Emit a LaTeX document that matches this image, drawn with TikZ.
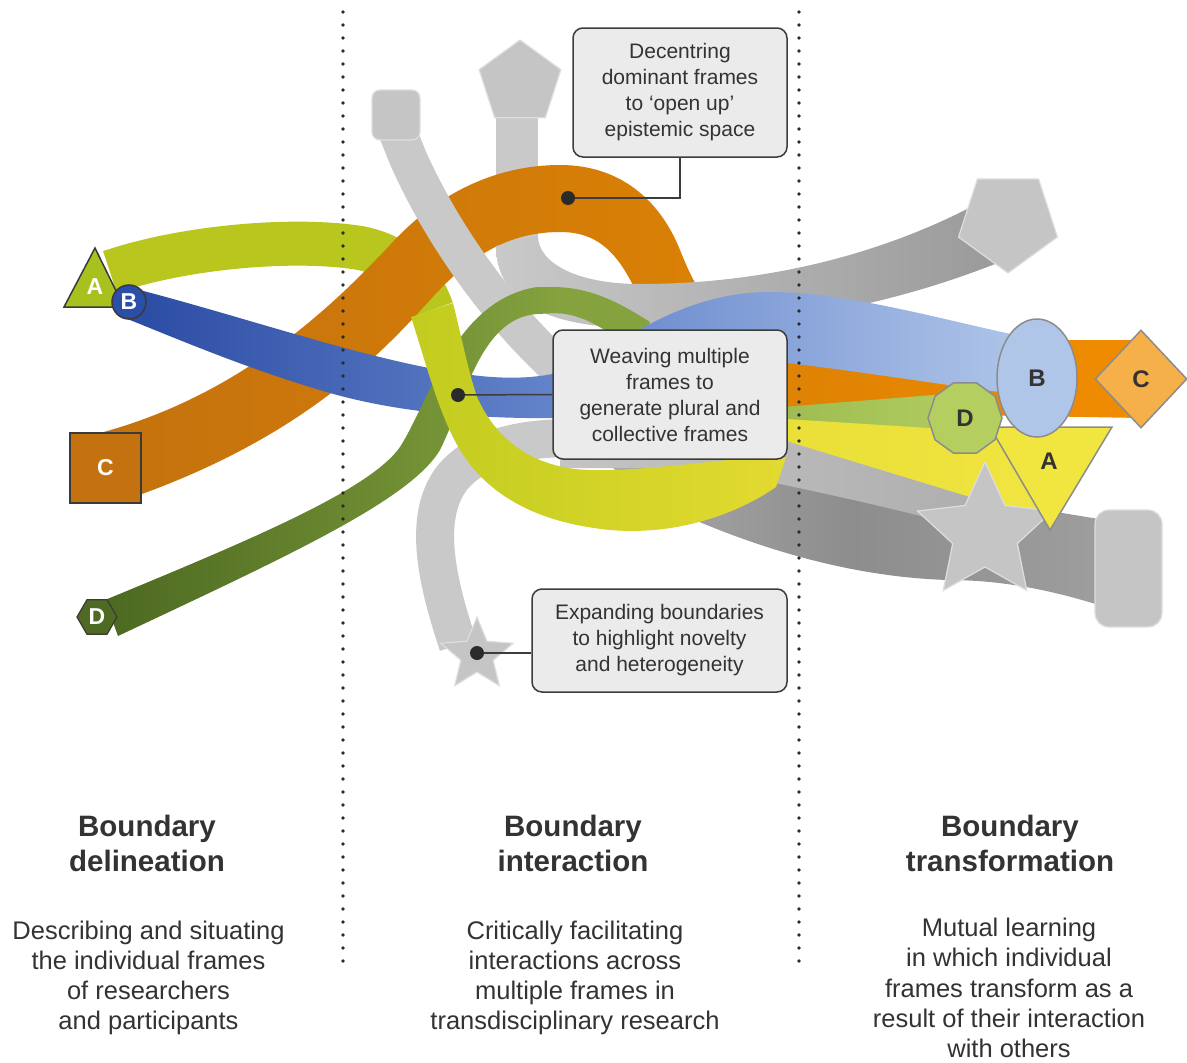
\documentclass[tikz,border=0pt]{standalone}
\usepackage{fontspec}
\setmainfont{Liberation Sans}
\usetikzlibrary{shapes.geometric}
\definecolor{grayBand}{HTML}{C9C9C9}
\definecolor{grayDk}{HTML}{9A9A9A}
\definecolor{grayS}{HTML}{C5C5C5}
\definecolor{grayEdge}{HTML}{DEDEDE}
\definecolor{orL}{HTML}{C4720F}
\definecolor{orM}{HTML}{D67E06}
\definecolor{orR}{HTML}{F08C00}
\definecolor{blL}{HTML}{2A4BA3}
\definecolor{blM}{HTML}{6686CC}
\definecolor{blR}{HTML}{B0C6E9}
\definecolor{grL}{HTML}{4C6921}
\definecolor{grR}{HTML}{84A23E}
\definecolor{aGreen}{HTML}{B8C61D}
\definecolor{yL}{HTML}{C2CC1F}
\definecolor{yR}{HTML}{E3DA30}
\definecolor{yfL}{HTML}{E9DF38}
\definecolor{yfR}{HTML}{F1E541}
\definecolor{gfL}{HTML}{9DBB50}
\definecolor{gfR}{HTML}{AFCB60}
\definecolor{rbL}{HTML}{ABABAB}
\definecolor{rbM}{HTML}{8D8D8D}
\definecolor{rbR}{HTML}{9E9E9E}
\definecolor{sbL}{HTML}{C4C4C4}
\definecolor{sbR}{HTML}{ADADAD}
\definecolor{edgeD}{HTML}{3A3A3A}
\definecolor{edgeG}{HTML}{8C8C8C}
\definecolor{boxFill}{HTML}{EBEBEB}
\definecolor{boxLine}{HTML}{3C3C3C}
\definecolor{txt}{HTML}{333333}
\definecolor{dotC}{HTML}{2A2A2A}
\definecolor{bEll}{HTML}{AFC6E8}
\definecolor{dDec}{HTML}{B4CF5F}
\definecolor{cDia}{HTML}{F5B04A}
\definecolor{aRight}{HTML}{F1E640}
\definecolor{aTri}{HTML}{A9C11F}
\definecolor{bCirc}{HTML}{2B4EA8}
\definecolor{cSq}{HTML}{C4720F}
\definecolor{dHex}{HTML}{4E6A23}
\tikzset{
  callout/.style={draw=boxLine, fill=boxFill, rounded corners=10, line width=1.5, align=center,
    font=\fontsize{21}{26}\selectfont, text=txt, inner sep=0},
  leader/.style={draw=boxLine, line width=1.5},
  leaddot/.style={circle, fill=dotC, inner sep=0, minimum size=14},
  grayshape/.style={fill=grayS, draw=grayEdge, line width=1.2},
  lblW/.style={text=white, font=\bfseries\fontsize{23}{23}\selectfont},
  lblD/.style={text=txt, font=\bfseries\fontsize{24}{24}\selectfont},
  heading/.style={anchor=north, align=center, font=\bfseries\fontsize{29.5}{35}\selectfont, text=txt, inner sep=0},
  desc/.style={anchor=north, align=center, font=\fontsize{25.5}{30.2}\selectfont, text=txt, inner sep=0},
  dotline/.style={line width=3.6, dash pattern=on 0pt off 13pt, line cap=round, draw=dotC},
}
\begin{document}
\begin{tikzpicture}[x=1pt,y=-1pt]
\useasboundingbox (0,0) rectangle (1187,1063);
\fill[white] (0,0) rectangle (1187,1063);

% pentagon band, vertical piece (under orange)
\fill[grayBand] (496,112) -- (538,112) -- (538,250) -- (496,250) -- cycle;
% small-star band, left part
\draw[line width=38, grayBand] (458,645) .. controls (440,590) and (420,520) .. (452,478) .. controls (480,445) and (525,438) .. (575,438);
% A band, first part
\draw[line width=44, aGreen] (110,272) .. controls (190,245) and (300,238) .. (360,248) .. controls (400,256) and (422,280) .. (432,310);
% orange C band
\shade[left color=orL, right color=orR, middle color=orM]
  (100,433) .. controls (230,398) and (320,320) .. (390,245) .. controls (440,190) and (500,165) .. (560,165)
  .. controls (620,165) and (660,200) .. (680,250) .. controls (700,300) and (720,335) .. (800,340)
  -- (1141,340) -- (1141,418) -- (800,412) .. controls (700,405) and (660,340) .. (640,300)
  .. controls (620,255) and (600,232) .. (560,232) .. controls (510,232) and (470,255) .. (430,300)
  .. controls (380,355) and (300,440) .. (125,500) -- cycle;
% pentagon band, second piece (over orange)
\shade[left color=grayBand, right color=grayDk]
  (538,236) -- (496,246) .. controls (496,300) and (545,328) .. (640,328) .. controls (760,328) and (880,310) .. (1000,262)
  -- (975,205) .. controls (860,265) and (740,284) .. (640,284) .. controls (575,284) and (538,262) .. (538,236) -- cycle;
% square band, left part
\draw[line width=38, grayBand] (396,128) -- (408,158) .. controls (440,230) and (490,300) .. (540,350) -- (590,400);
% green band end piece (under blue)
\fill[grR] (555,287) .. controls (590,288) and (615,300) .. (650,322) -- (638,352) .. controls (605,330) and (585,314) .. (555,313) -- cycle;
% blue B band
\shade[left color=blL, right color=blR, middle color=blM]
  (128,287) .. controls (250,318) and (380,365) .. (480,376) .. controls (530,381) and (570,375) .. (600,355)
  .. controls (630,335) and (690,292) .. (770,292) .. controls (850,292) and (950,322) .. (1030,338)
  -- (1030,396) .. controls (950,386) and (850,370) .. (787,363) -- (680,380) -- (560,418)
  .. controls (480,419) and (400,413) .. (330,393) .. controls (250,370) and (180,340) .. (125,318) -- cycle;
% green D band
\shade[left color=grL, right color=grR]
  (105,600) .. controls (250,540) and (370,490) .. (400,447) .. controls (430,400) and (455,300) .. (537,287)
  -- (560,287) -- (560,313) -- (537,314) .. controls (480,318) and (465,400) .. (440,450)
  .. controls (410,500) and (290,555) .. (118,636) -- cycle;
% grey bands, right lower part
\shade[left color=rbL, right color=rbR, middle color=rbM]
  (600,440) -- (800,470) -- (1105,520) -- (1105,607) .. controls (1040,586) and (990,580) .. (948,580)
  .. controls (850,577) and (760,548) .. (690,518) .. controls (650,500) and (615,472) .. (600,455) -- cycle;
\shade[left color=sbL, right color=sbR]
  (560,428) -- (790,428) -- (1010,500) -- (1000,538) .. controls (960,525) and (880,505) .. (780,484)
  .. controls (740,476) and (700,470) .. (660,468) -- (560,468) -- cycle;
% green fan
\shade[left color=gfL, right color=gfR] (770,408) -- (946,394) -- (946,446) -- (770,440) -- cycle;
% A band second part (yellow)
\shade[left color=yL, right color=yR]
  (411,317) .. controls (425,360) and (435,400) .. (452,435) .. controls (478,490) and (530,522) .. (610,530)
  .. controls (680,536) and (740,512) .. (776,487) -- (786,457) -- (760,457)
  .. controls (700,462) and (620,474) .. (575,469) .. controls (520,462) and (492,430) .. (477,397)
  .. controls (468,370) and (461,335) .. (453,303) -- cycle;
% yellow fan
\shade[left color=yfL, right color=yfR] (770,418) -- (992,432) -- (1052,522) -- (770,436) -- cycle;

% grey end shapes
\node[rectangle, rounded corners=8, minimum width=48, minimum height=50, inner sep=0, grayshape] (sqTL) at (396,115) {};
\node[regular polygon, regular polygon sides=5, minimum size=86, inner sep=0, grayshape] (penTop) at (520,83) {};
\coordinate (smallstar) at (477,655);
\filldraw[grayshape] plot[samples at={0,...,9}, variable=\k]
  ({477+(27.5+10.5*cos(180*\k))*cos(-90+36*\k)}, {655+(27.5+10.5*cos(180*\k))*sin(-90+36*\k)}) -- cycle;
\node[regular polygon, regular polygon sides=5, shape border rotate=180, minimum size=104, inner sep=0, grayshape] (penR) at (1008,221) {};
\node[rectangle, rounded corners=14, minimum width=67, minimum height=117, inner sep=0, grayshape] (rectR) at (1128.5,568.5) {};
\coordinate (bigstar) at (985,533);
\filldraw[grayshape] plot[samples at={0,...,9}, variable=\k]
  ({985+(52.5+18.5*cos(180*\k))*cos(-90+36*\k)}, {533+(52.5+18.5*cos(180*\k))*sin(-90+36*\k)}) -- cycle;

% right coloured shapes
\filldraw[fill=aRight, draw=edgeG, line width=1.5] (990,427) -- (1112,427) -- (1050,530) -- cycle;
\node[lblD] (aR) at (1049,461) {A};
\node[ellipse, minimum width=80, minimum height=118, inner sep=0, fill=bEll, draw=edgeG, line width=1.5, lblD] (bR) at (1037,378) {B};
\node[regular polygon, regular polygon sides=10, minimum size=74, inner sep=0, fill=dDec, draw=edgeG, line width=1.5, lblD] (dR) at (965,418) {D};
\node[diamond, minimum width=92, minimum height=98, inner sep=0, fill=cDia, draw=edgeG, line width=1.5, lblD] (cR) at (1141,379) {C};

% left coloured shapes
\filldraw[fill=aTri, draw=edgeD, line width=1.5] (95,248) -- (64,307) -- (124,307) -- cycle;
\node[lblW] (aL) at (95,287) {A};
\node[circle, minimum size=34, inner sep=0, fill=bCirc, draw=edgeD, line width=1.5, lblW] (bL) at (129,302) {B};
\node[rectangle, minimum width=71, minimum height=70, inner sep=0, fill=cSq, draw=edgeD, line width=1.5, lblW] (cL) at (105.5,468) {C};
\node[regular polygon, regular polygon sides=6, minimum size=40, inner sep=0, fill=dHex, draw=edgeD, line width=1.2, lblW] (dL) at (97,617) {D};

% dotted separators
\draw[dotline] (343,12) -- (343,968);
\draw[dotline] (799,12) -- (799,972);

% callouts
\node[callout, minimum width=214, minimum height=129] (box1) at (680,92.5) {Decentring\\dominant frames\\to ‘open up’\\epistemic space};
\node[callout, minimum width=234, minimum height=129] (box2) at (670,394.5) {Weaving multiple\\frames to\\generate plural and\\collective frames};
\node[callout, minimum width=255, minimum height=103] (box3) at (659.5,640.5) {Expanding boundaries\\to highlight novelty\\and heterogeneity};
\node[leaddot] (dot1) at (568,198) {};
\node[leaddot] (dot2) at (458,395) {};
\node[leaddot] (dot3) at (477,653) {};
\draw[leader] (box1.south) |- (dot1);
\draw[leader] (box2.west) -- (dot2);
\draw[leader] (dot3) -- (dot3 -| box3.west);

% captions
\node[heading] (h1) at (147,814.5) {Boundary\\delineation};
\node[heading] (h2) at (573,814.5) {Boundary\\interaction};
\node[heading] (h3) at (1010,814.5) {Boundary\\transformation};
\node[desc] (d1) at (148.5,920.5) {Describing and situating\\the individual frames\\of researchers\\and participants};
\node[desc] (d2) at (575,920.5) {Critically facilitating\\interactions across\\multiple frames in\\transdisciplinary research};
\node[desc] (d3) at (1009,918) {Mutual learning\\in which individual\\frames transform as a\\result of their interaction\\with others};
\end{tikzpicture}
\end{document}
